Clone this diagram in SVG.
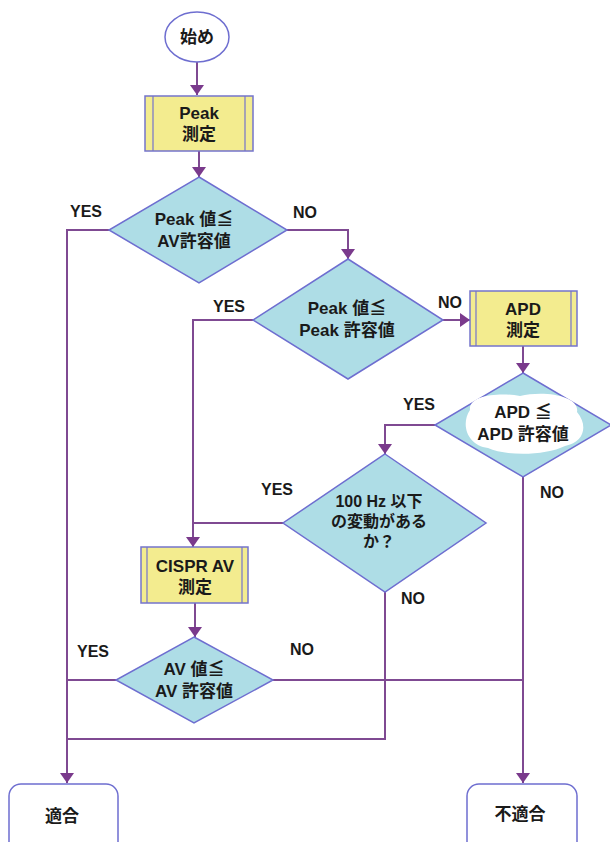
<svg xmlns="http://www.w3.org/2000/svg" width="610" height="842" viewBox="0 0 610 842">
<defs>
<marker id="ah" viewBox="0 0 10 14" refX="10" refY="7" markerWidth="10" markerHeight="14" markerUnits="userSpaceOnUse" orient="auto">
<path d="M0,0 L10,7 L0,14 Z" fill="#7A3A8C"/>
</marker>
<style>
.ln{fill:none;stroke:#7F4A92;stroke-width:2}
.ar{marker-end:url(#ah)}
.dm{fill:#AEDDE6;stroke:#6E6ED0;stroke-width:1.5}
.bx{fill:#F3EC8F;stroke:#7474CC;stroke-width:1.5}
.in{stroke:#7474CC;stroke-width:1.2}
.tm{fill:#fff;stroke:#6E6ED0;stroke-width:1.5}
.t{font-family:"Liberation Sans","Noto Sans CJK JP",sans-serif;font-weight:bold;font-size:17px;fill:#1a1a1a;text-anchor:middle}
.s{font-size:16px}
.lb{font-family:"Liberation Sans",sans-serif;font-weight:bold;font-size:16px;fill:#1a1a1a;text-anchor:middle}
</style>
</defs>
<rect width="610" height="842" fill="#fff"/>
<g id="connectors">
<path class="ln ar" d="M197,62 V95"/>
<path class="ln ar" d="M199,151 V177"/>
<path class="ln" d="M109,230 H67 V740"/>
<path class="ln ar" d="M67,740 V783"/>
<path class="ln ar" d="M287,230 H348 V259"/>
<path class="ln" d="M253,320 H193 V523"/>
<path class="ln ar" d="M193,523 V547"/>
<path class="ln ar" d="M443,320 H470"/>
<path class="ln ar" d="M523,346 V373"/>
<path class="ln ar" d="M435,425 H385 V454"/>
<path class="ln" d="M523,476 V680"/>
<path class="ln ar" d="M523,680 V783"/>
<path class="ln" d="M283,523 H193"/>
<path class="ln" d="M385,592 V739 H67"/>
<path class="ln ar" d="M195,603 V637"/>
<path class="ln" d="M116,680 H67"/>
<path class="ln" d="M273,680 H523"/>
</g>
<g id="start">
<ellipse class="tm" cx="197" cy="37" rx="32" ry="25"/>
<text class="t" x="197" y="43">始め</text>
</g>
<g id="peak-measure">
<rect class="bx" x="145" y="96" width="108" height="55"/>
<line class="in" x1="153" y1="96" x2="153" y2="151"/>
<line class="in" x1="245" y1="96" x2="245" y2="151"/>
<text class="t" x="199" y="119">Peak</text>
<text class="t" x="199" y="140">測定</text>
</g>
<g id="dec-peak-av">
<polygon class="dm" points="199,177 287,230 199,283 109,230"/>
<text class="t" x="194" y="225">Peak 値≦</text>
<text class="t" x="194" y="247">AV許容値</text>
<text class="lb" x="86" y="217">YES</text>
<text class="lb" x="305" y="218">NO</text>
</g>
<g id="dec-peak-peak">
<polygon class="dm" points="348,259 443,320 348,379 253,320"/>
<text class="t" x="347" y="314">Peak 値≦</text>
<text class="t" x="347" y="336">Peak 許容値</text>
<text class="lb" x="229" y="312">YES</text>
<text class="lb" x="450" y="308">NO</text>
</g>
<g id="apd-measure">
<rect class="bx" x="470" y="291" width="107" height="55"/>
<line class="in" x1="476" y1="291" x2="476" y2="346"/>
<line class="in" x1="571" y1="291" x2="571" y2="346"/>
<text class="t" x="523" y="315">APD</text>
<text class="t" x="523" y="336">測定</text>
</g>
<g id="dec-apd">
<polygon class="dm" points="523,373 611,425 523,477 435,425"/>
<path d="M470,410 C468,395 500,392 520,396 C545,390 580,396 577,412 C588,425 585,442 565,446 C545,456 505,456 488,448 C468,446 460,425 470,410 Z" fill="#fff"/>
<text class="t" x="523" y="418">APD ≦</text>
<text class="t" x="523" y="440">APD 許容値</text>
<text class="lb" x="419" y="410">YES</text>
<text class="lb" x="552" y="498">NO</text>
</g>
<g id="dec-100hz">
<polygon class="dm" points="385,454 486,523 385,592 283,523"/>
<text class="t s" x="379" y="507">100 Hz 以下</text>
<text class="t s" x="379" y="527">の変動がある</text>
<text class="t s" x="379" y="547">か？</text>
<text class="lb" x="277" y="495">YES</text>
<text class="lb" x="413" y="604">NO</text>
</g>
<g id="cispr-measure">
<rect class="bx" x="141" y="547" width="107" height="56"/>
<line class="in" x1="147" y1="547" x2="147" y2="603"/>
<line class="in" x1="242" y1="547" x2="242" y2="603"/>
<text class="t" x="195" y="572">CISPR AV</text>
<text class="t" x="195" y="593">測定</text>
</g>
<g id="dec-av">
<polygon class="dm" points="194,637 273,680 194,723 116,680"/>
<text class="t" x="194" y="675">AV 値≦</text>
<text class="t" x="194" y="697">AV 許容値</text>
<text class="lb" x="93" y="657">YES</text>
<text class="lb" x="302" y="655">NO</text>
</g>
<g id="pass">
<rect class="tm" x="9" y="784" width="109" height="70" rx="12"/>
<text class="t" x="62" y="822">適合</text>
</g>
<g id="fail">
<rect class="tm" x="467" y="784" width="110" height="70" rx="12"/>
<text class="t" x="520" y="820">不適合</text>
</g>
</svg>
